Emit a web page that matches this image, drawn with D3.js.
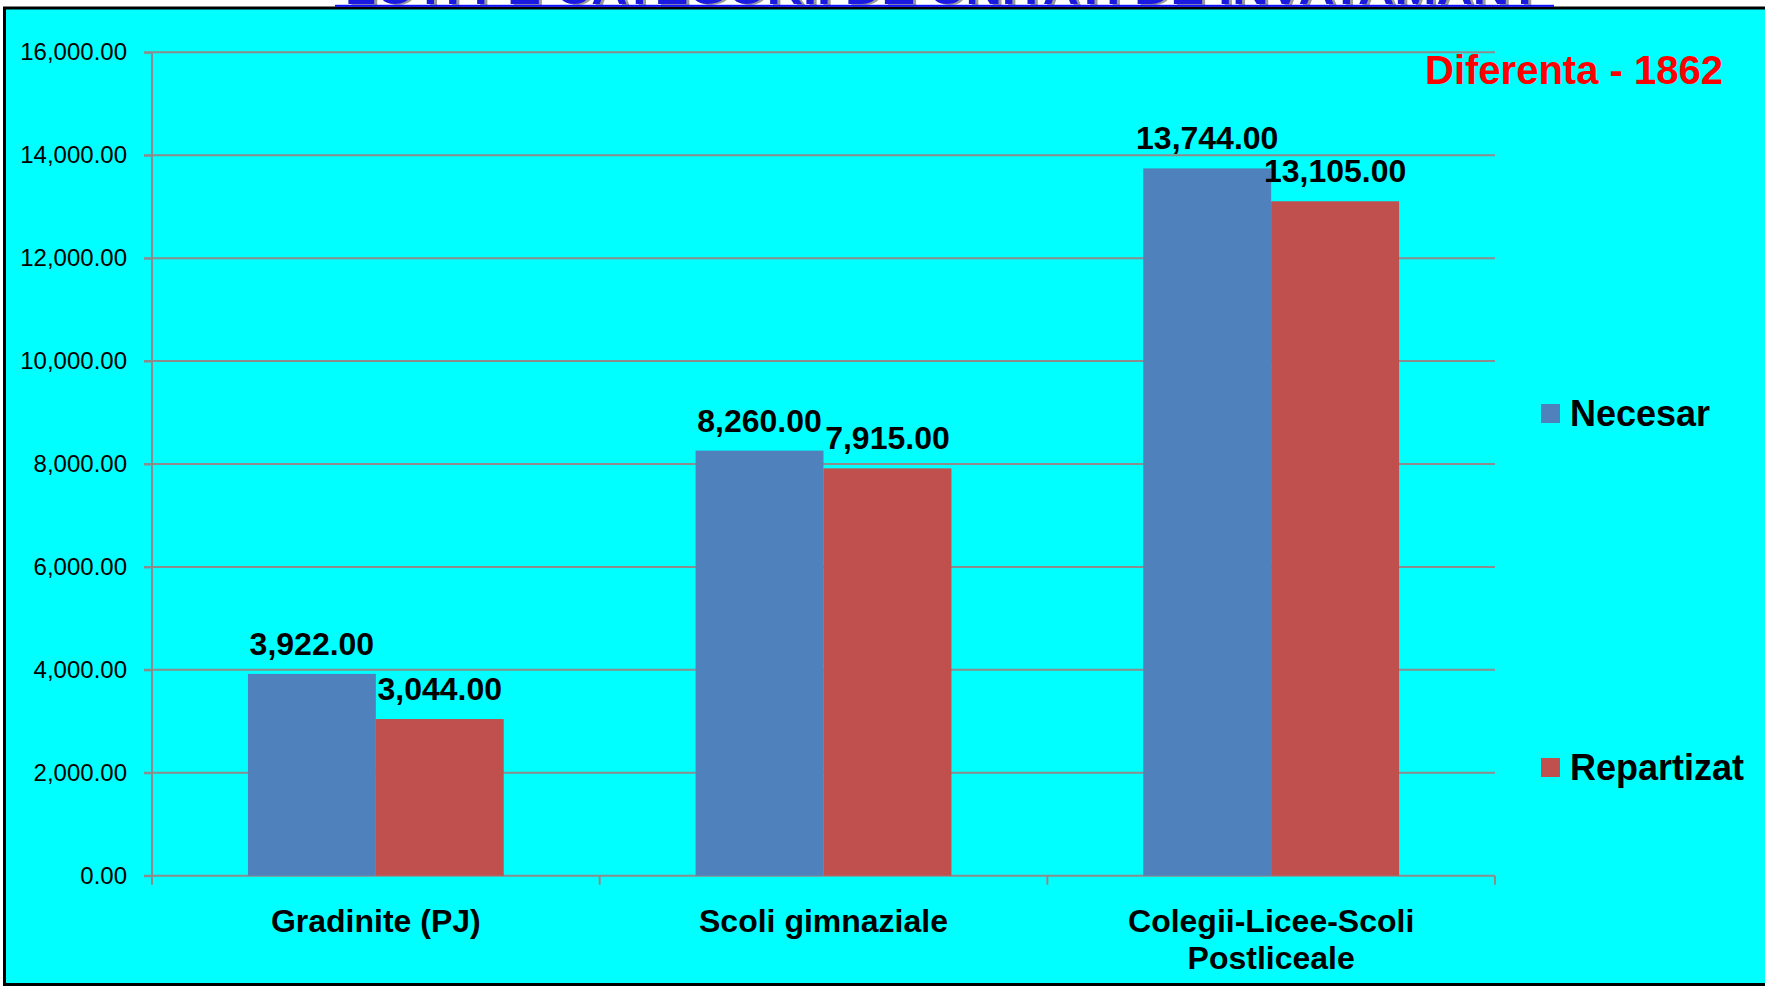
<!DOCTYPE html>
<html><head><meta charset="utf-8">
<script src="https://cdn.jsdelivr.net/npm/d3@7"></script>
<style>html,body{margin:0;padding:0;background:#fff;overflow:hidden}</style>
</head><body>
<svg id="chart" width="1765" height="986"></svg>
<script>
const categories = ["Gradinite (PJ)", "Scoli gimnaziale", "Colegii-Licee-Scoli\nPostliceale"];
const seriesNames = ["Necesar", "Repartizat"];
const necesar = [3922, 8260, 13744];
const repartizat = [3044, 7915, 13105];
const yTicks = [0, 2000, 4000, 6000, 8000, 10000, 12000, 14000, 16000];
const seriesColors = ["#4F81BD", "#C0504D"];
const titleText = "LOTI PE CATEGORII DE UNITATI DE INVATAMANT";
const noteText = "Diferenta - 1862";

(function () {
const values = [necesar, repartizat];
const svg = d3.select("#chart");
const FONT = "'Liberation Sans', Arial, sans-serif";

// frame / background
svg.append("rect").attr("x", 4.5).attr("y", 8).attr("width", 1765).attr("height", 976.5)
  .attr("fill", "#00FFFF").attr("stroke", "#000").attr("stroke-width", 3);

// clipped title (only its bottom is visible, as in the reference)
[["#9a9a9a", "translate(3,1.5)"], ["#1a1ae0", null]].forEach(([fill, tr]) => {
  svg.append("text").attr("x", 345).attr("y", 3.5)
    .attr("textLength", 1195).attr("lengthAdjust", "spacingAndGlyphs")
    .attr("font-family", FONT).attr("font-weight", "bold").attr("font-size", 46)
    .attr("fill", fill).attr("transform", tr).text(titleText);
});
svg.append("rect").attr("x", 335).attr("y", 4.8).attr("width", 1219).attr("height", 2).attr("fill", "#1010ff");

const pLeft = 152, pRight = 1495, pTop = 52.3, pBottom = 875.7;
const y = d3.scaleLinear().domain([0, 16000]).range([pBottom, pTop]);
const x0 = d3.scaleBand().domain(d3.range(categories.length)).range([pLeft, pRight]).padding(0);
const bw = x0.bandwidth();
const gap = bw * 1.5 / 3.5;
const x1 = d3.scaleBand().domain(d3.range(seriesNames.length)).range([gap / 2, bw - gap / 2]).padding(0);

// gridlines
svg.append("g").selectAll("line").data(yTicks).join("line")
  .attr("x1", pLeft - 8).attr("x2", pRight).attr("y1", d => y(d)).attr("y2", d => y(d))
  .attr("stroke", "#8c8c8c").attr("stroke-width", 2);

// y axis
const yAxis = d3.axisLeft(y).tickValues(yTicks).tickFormat(d3.format(",.2f")).tickSize(8).tickPadding(17);
const gy = svg.append("g").attr("transform", `translate(${pLeft},0)`).call(yAxis);
gy.select(".domain").attr("stroke", "#8c8c8c").attr("stroke-width", 2).attr("d", `M0,${pTop}V${pBottom}`);
gy.selectAll(".tick line").attr("stroke", "#8c8c8c").attr("stroke-width", 2);
gy.selectAll(".tick text").attr("font-family", FONT).attr("font-size", 24).attr("fill", "#000");

// x axis ticks at category boundaries
const bounds = d3.range(categories.length + 1).map(i => i === categories.length ? pRight : x0(i));
svg.append("g").selectAll("line").data(bounds).join("line")
  .attr("x1", d => d).attr("x2", d => d).attr("y1", pBottom).attr("y2", pBottom + 9)
  .attr("stroke", "#8c8c8c").attr("stroke-width", 2);

// bars
seriesNames.forEach((s, si) => {
  const g = svg.append("g");
  g.selectAll("rect").data(values[si]).join("rect")
    .attr("x", (d, i) => x0(i) + x1(si)).attr("width", x1.bandwidth())
    .attr("y", d => y(d)).attr("height", d => pBottom - y(d))
    .attr("fill", seriesColors[si]);
  g.selectAll("text").data(values[si]).join("text")
    .attr("x", (d, i) => x0(i) + x1(si) + x1.bandwidth() / 2)
    .attr("y", d => y(d) - 19).attr("text-anchor", "middle")
    .attr("font-family", FONT).attr("font-weight", "bold").attr("font-size", 32).attr("fill", "#000")
    .text(d => d3.format(",.2f")(d));
});

// category labels
categories.forEach((c, i) => {
  const t = svg.append("text").attr("text-anchor", "middle")
    .attr("font-family", FONT).attr("font-weight", "bold").attr("font-size", 32).attr("fill", "#000");
  c.split("\n").forEach((line, li) => {
    t.append("tspan").attr("x", x0(i) + bw / 2).attr("y", 932 + li * 37).text(line);
  });
});

// legend
const legendY = [404, 758];
seriesNames.forEach((s, si) => {
  svg.append("rect").attr("x", 1541).attr("y", legendY[si]).attr("width", 19).attr("height", 19).attr("fill", seriesColors[si]);
  svg.append("text").attr("x", 1570).attr("y", legendY[si] + 22)
    .attr("font-family", FONT).attr("font-weight", "bold").attr("font-size", 36).attr("fill", "#000").text(s);
});

// note
svg.append("text").attr("x", 1425).attr("y", 84)
  .attr("font-family", FONT).attr("font-weight", "bold").attr("font-size", 40).attr("fill", "#FF0000").text(noteText);
})();
</script>
</body></html>
